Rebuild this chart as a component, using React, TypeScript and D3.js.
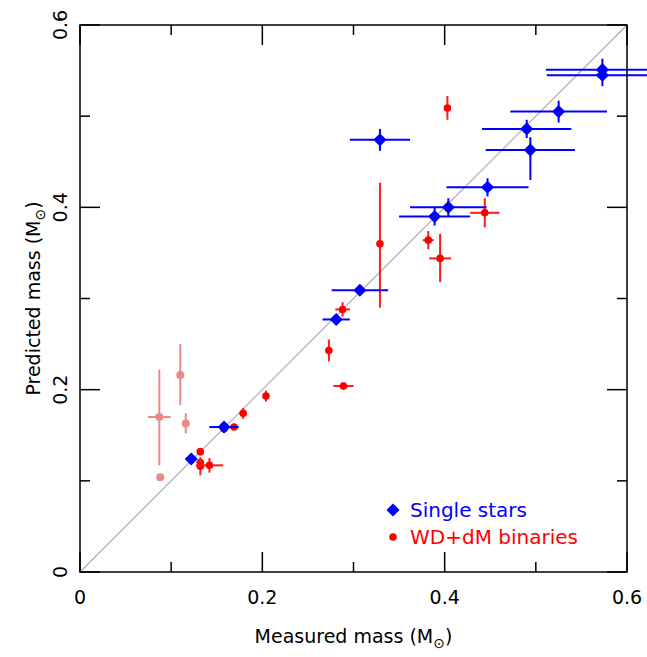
import * as d3 from "d3";

// single stars: [x, y, xErr, yLo, yHi]
const singleStars: number[][] = [
  [0.122, 0.124, 0, 0.004, 0.004],
  [0.158, 0.159, 0.016, 0.004, 0.004],
  [0.281, 0.277, 0.015, 0.006, 0.006],
  [0.307, 0.309, 0.031, 0.005, 0.005],
  [0.329, 0.474, 0.033, 0.012, 0.012],
  [0.389, 0.390, 0.039, 0.01, 0.01],
  [0.404, 0.400, 0.042, 0.01, 0.01],
  [0.447, 0.422, 0.045, 0.01, 0.01],
  [0.494, 0.463, 0.049, 0.033, 0.014],
  [0.490, 0.486, 0.049, 0.01, 0.01],
  [0.525, 0.505, 0.053, 0.012, 0.012],
  [0.573, 0.551, 0.062, 0.012, 0.012],
  [0.573, 0.545, 0.061, 0.012, 0.012],
];

// WD+dM binaries: [x, y, xErr, yLo, yHi]
const binaries: number[][] = [
  [0.132, 0.132, 0, 0.004, 0.004],
  [0.132, 0.120, 0, 0.004, 0.004],
  [0.132, 0.116, 0, 0.01, 0.01],
  [0.142, 0.117, 0.015, 0.008, 0.008],
  [0.158, 0.157, 0.003, 0.003, 0.003],
  [0.169, 0.159, 0.002, 0.002, 0.002],
  [0.179, 0.174, 0.004, 0.006, 0.006],
  [0.204, 0.193, 0.002, 0.006, 0.006],
  [0.273, 0.243, 0.002, 0.012, 0.012],
  [0.288, 0.288, 0.008, 0.008, 0.008],
  [0.289, 0.204, 0.011, 0.004, 0.004],
  [0.329, 0.360, 0.002, 0.07, 0.067],
  [0.382, 0.364, 0.006, 0.01, 0.01],
  [0.395, 0.344, 0.012, 0.026, 0.027],
  [0.444, 0.394, 0.016, 0.016, 0.016],
  [0.403, 0.509, 0.002, 0.013, 0.013],
];

// lighter binaries: [x, y, xErr, yLo, yHi]
const paleBinaries: number[][] = [
  [0.087, 0.170, 0.0125, 0.053, 0.052],
  [0.110, 0.216, 0.002, 0.033, 0.034],
  [0.116, 0.163, 0.002, 0.011, 0.011],
  [0.088, 0.104, 0.002, 0.002, 0.002],
];

const ticks = [0, 0.1, 0.2, 0.3, 0.4, 0.5, 0.6];
const tickLabels = [0, 0.2, 0.4, 0.6];

const left = 80, right = 627, top = 25, bottom = 572;
const x = d3.scaleLinear().domain([0, 0.6]).range([left, right]);
const y = d3.scaleLinear().domain([0, 0.6]).range([bottom, top]);
const font = "'DejaVu Sans', sans-serif";

function ErrBars({ d, color, w }: { d: number[]; color: string; w: number }) {
  const [vx, vy, ex, lo, hi] = d;
  return (
    <g stroke={color} strokeWidth={w}>
      <line x1={x(vx - ex)} x2={x(vx + ex)} y1={y(vy)} y2={y(vy)} />
      <line x1={x(vx)} x2={x(vx)} y1={y(vy - lo)} y2={y(vy + hi)} />
    </g>
  );
}

export default function App() {
  const diamond = d3.symbol().type(d3.symbolDiamond2).size(110)()!;
  return (
    <svg width={647} height={657} style={{ position: "absolute", left: 0, top: 0 }}>
      <rect width={647} height={657} fill="white" />
      <line x1={x(0)} y1={y(0)} x2={x(0.6)} y2={y(0.6)} stroke="#aaa" strokeWidth={1.2} />
      {paleBinaries.map((d, i) => (
        <g key={"p" + i}>
          <ErrBars d={d} color="#e88a8a" w={2} />
          <circle cx={x(d[0])} cy={y(d[1])} r={4} fill="#e88a8a" />
        </g>
      ))}
      {binaries.map((d, i) => (
        <g key={"b" + i}>
          <ErrBars d={d} color="#ff1a1a" w={2} />
          <circle cx={x(d[0])} cy={y(d[1])} r={3.8} fill="#ff0000" />
        </g>
      ))}
      {singleStars.map((d, i) => (
        <g key={"s" + i}>
          <ErrBars d={d} color="#0000ff" w={2} />
          <path d={diamond} transform={`translate(${x(d[0])},${y(d[1])})`} fill="#0000ff" />
        </g>
      ))}
      <rect x={left} y={top} width={right - left} height={bottom - top} fill="none" stroke="black" strokeWidth={1.5} />
      {ticks.map((t, i) => {
        const len = i % 2 === 0 ? 20 : 10;
        return (
          <g key={"t" + t} stroke="black" strokeWidth={1.5}>
            <line x1={x(t)} x2={x(t)} y1={bottom} y2={bottom - len} />
            <line x1={x(t)} x2={x(t)} y1={top} y2={top + len} />
            <line y1={y(t)} y2={y(t)} x1={left} x2={left + len} />
            <line y1={y(t)} y2={y(t)} x1={right} x2={right - len} />
          </g>
        );
      })}
      <g fontFamily={font} fontSize={19} fill="black">
        {tickLabels.map(t => (
          <text key={"xl" + t} x={x(t)} y={bottom + 32} textAnchor="middle">{t}</text>
        ))}
        {tickLabels.map(t => (
          <text key={"yl" + t} transform={`translate(${left - 13},${y(t)}) rotate(-90)`} textAnchor="middle">{t}</text>
        ))}
        <text x={(left + right) / 2} y={643} textAnchor="middle">
          Measured mass (M<tspan fontSize={14} dy={5}>⊙</tspan><tspan dy={-5}>)</tspan>
        </text>
        <text transform={`translate(40,${(top + bottom) / 2}) rotate(-90)`} textAnchor="middle">
          Predicted mass (M<tspan fontSize={14} dy={5}>⊙</tspan><tspan dy={-5}>)</tspan>
        </text>
      </g>
      <g fontFamily={font} fontSize={20}>
        <path d={diamond} transform="translate(393,510)" fill="#0000ff" />
        <text x={410} y={517} fill="#0000ff">Single stars</text>
        <circle cx={393} cy={537} r={3.8} fill="#ff0000" />
        <text x={410} y={544} fill="#ff0000">WD+dM binaries</text>
      </g>
    </svg>
  );
}
